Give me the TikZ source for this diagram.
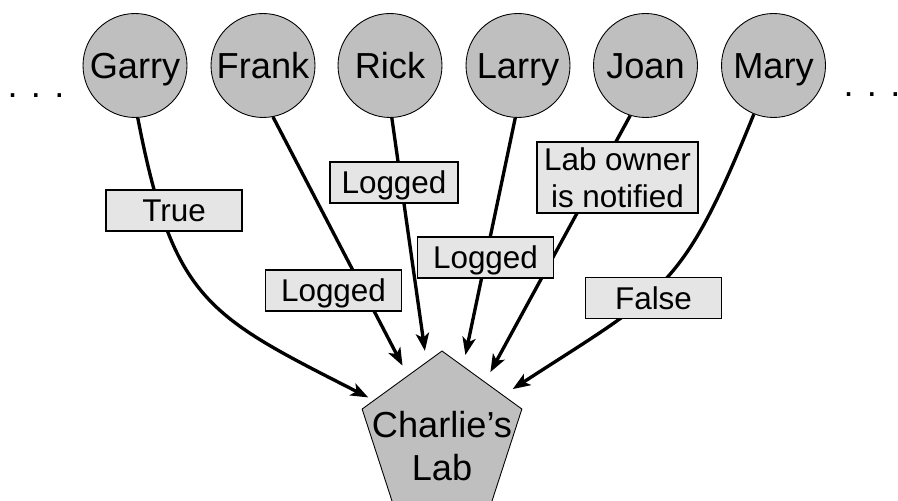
\documentclass[tikz,border=0pt]{standalone}
\usepackage{fontspec}
\setmainfont{Liberation Sans}
\usetikzlibrary{shapes.geometric,arrows.meta}

\begin{document}
\begin{tikzpicture}[x=0.02cm, y=0.02cm,
  per/.style={draw, circle, fill=black!25, line width=0.5pt, minimum size=2.08cm,
    inner sep=0pt, font=\fontsize{20.6}{24.4}\selectfont, text height=18.7pt, text depth=4.1pt},
  room/.style={draw, regular polygon, regular polygon sides=5, fill=black!25,
    line width=0.5pt, minimum size=3.36cm, inner sep=0pt},
  res/.style={draw, rectangle, fill=black!10, line width=0.6pt, minimum width=2.72cm,
    minimum height=0.82cm, inner sep=1.6pt, font=\fontsize{17.9}{21}\selectfont,
    text height=16.4pt, text depth=3.6pt},
  big/.style={font=\fontsize{20.6}{24.4}\selectfont, inner sep=0pt},
  flow/.style={-{Stealth[length=10pt, width=7.5pt, inset=2.5pt]}, line width=1.9pt,
    shorten >=0.22cm}]
\useasboundingbox (0,0) rectangle (898,500);
\node[per] (garry) at (135,434.5) {Garry};
\node[per] (frank) at (263,434.5) {Frank};
\node[per] (rick) at (390,434.5) {Rick};
\node[per] (larry) at (518,434.5) {Larry};
\node[per] (joan) at (645.5,434.5) {Joan};
\node[per] (mary) at (773.5,434.5) {Mary};
\node[big, anchor=base] (ldots) at (36,402) {. . .};
\node[big, anchor=base] (rdots) at (872,403) {. . .};
\node[room] (charlie) at (442,65) {};
\node[big, align=center] (charlietxt) at (442,54) {Charlie’s\\Lab};
\draw[flow, shorten >=0.12cm] (garry.-87) to[out=-79, in=153, looseness=1.3] (charlie.153);
\draw[flow] (frank.-79) -- (charlie.120);
\draw[flow] (rick.-88) -- (charlie.102);
\draw[flow] (larry.-93) -- (charlie.73);
\draw[flow] (joan.-107) -- (charlie.51);
\draw[flow] (mary.-112) to[out=-112, in=33, looseness=1.3] (charlie.33);
\node[res] (ltrue) at (174,289.5) {True};
\node[res] (lfrank) at (333.5,209.5) {Logged};
\node[res, minimum width=2.56cm] (lrick) at (394,317.5) {Logged};
\node[res] (llarry) at (485.5,242.5) {Logged};
\node[res, align=center, minimum width=3.22cm, minimum height=1.42cm,
  text height={}, text depth={}] (ljoan) at (617.5,322.5) {Lab owner\\is notified};
\node[res] (lfalse) at (653.5,202) {False};
\end{tikzpicture}
\end{document}
